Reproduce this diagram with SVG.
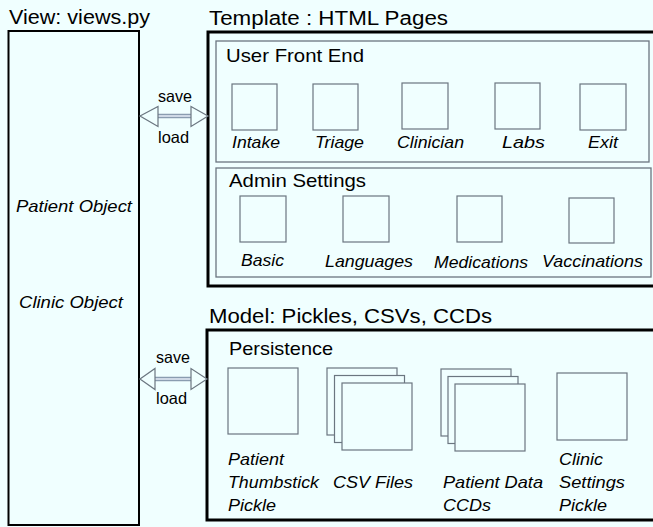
<svg xmlns="http://www.w3.org/2000/svg" width="653" height="527" viewBox="0 0 653 527">
<style>
.bg{fill:#f0ffff}
.outer{fill:#f0ffff;stroke:#000;stroke-width:3}
.outerv{fill:#f0ffff;stroke:#000;stroke-width:2}
.inner{fill:#f0ffff;stroke:#6b7680;stroke-width:1.3}
.page{fill:#f0ffff;stroke:#6b7680;stroke-width:1.2}
text{font-family:"Liberation Sans",Arial,sans-serif;fill:#000}
.title{font-size:20px}
.sub{font-size:19px}
.lab{font-size:17px;font-style:italic}
.sl{font-size:16.5px}
.tri{fill:#f0ffff;stroke:#6b7680;stroke-width:1.2}
.shaft{stroke:#8a9cb0;stroke-width:4.5}
.shaftin{stroke:#e6eef8;stroke-width:1.5}
</style>
<rect class="bg" x="0" y="0" width="653" height="527"/>

<g id="view">
<text class="title" x="9" y="24" textLength="141" lengthAdjust="spacingAndGlyphs">View: views.py</text>
<rect class="outerv" x="8.5" y="31" width="130.5" height="494"/>
<text class="lab" x="16" y="212" textLength="116" lengthAdjust="spacingAndGlyphs">Patient Object</text>
<text class="lab" x="19" y="308" textLength="104" lengthAdjust="spacingAndGlyphs">Clinic Object</text>
</g>

<g id="template">
<text class="title" x="209" y="25" textLength="239" lengthAdjust="spacingAndGlyphs">Template : HTML Pages</text>
<rect class="outer" x="208" y="32" width="460" height="254"/>
</g>

<g id="user-front-end">
<rect class="inner" x="216" y="41" width="433" height="121"/>
<text class="sub" x="226" y="62" textLength="138" lengthAdjust="spacingAndGlyphs">User Front End</text>
<g id="intake"><rect class="page" x="232" y="84" width="45" height="46"/><text class="lab" x="232" y="148" textLength="48" lengthAdjust="spacingAndGlyphs">Intake</text></g>
<g id="triage"><rect class="page" x="313" y="84" width="45" height="46"/><text class="lab" x="315" y="148" textLength="49" lengthAdjust="spacingAndGlyphs">Triage</text></g>
<g id="clinician"><rect class="page" x="402" y="83" width="46" height="46"/><text class="lab" x="397" y="148" textLength="67" lengthAdjust="spacingAndGlyphs">Clinician</text></g>
<g id="labs"><rect class="page" x="495" y="83" width="45" height="46"/><text class="lab" x="502" y="148" textLength="43" lengthAdjust="spacingAndGlyphs">Labs</text></g>
<g id="exit"><rect class="page" x="580" y="84" width="46" height="46"/><text class="lab" x="588" y="148" textLength="30" lengthAdjust="spacingAndGlyphs">Exit</text></g>
</g>

<g id="admin-settings">
<rect class="inner" x="216" y="168" width="435" height="109"/>
<text class="sub" x="229" y="187" textLength="137" lengthAdjust="spacingAndGlyphs">Admin Settings</text>
<g id="basic"><rect class="page" x="240" y="196" width="46" height="46"/><text class="lab" x="241" y="266" textLength="43" lengthAdjust="spacingAndGlyphs">Basic</text></g>
<g id="languages"><rect class="page" x="343" y="196" width="46" height="46"/><text class="lab" x="325" y="267" textLength="88" lengthAdjust="spacingAndGlyphs">Languages</text></g>
<g id="medications"><rect class="page" x="457" y="196" width="45" height="46"/><text class="lab" x="434" y="268" textLength="94" lengthAdjust="spacingAndGlyphs">Medications</text></g>
<g id="vaccinations"><rect class="page" x="569" y="198" width="45" height="45"/><text class="lab" x="542" y="267" textLength="101" lengthAdjust="spacingAndGlyphs">Vaccinations</text></g>
</g>

<g id="model">
<text class="title" x="209" y="323" textLength="283" lengthAdjust="spacingAndGlyphs">Model: Pickles, CSVs, CCDs</text>
<rect class="outer" x="207" y="330" width="460" height="190"/>
<text class="sub" x="229" y="355" textLength="104" lengthAdjust="spacingAndGlyphs">Persistence</text>
</g>

<g id="patient-pickle">
<rect class="page" x="228" y="368" width="70" height="66"/>
<text class="lab" x="228" y="465" textLength="56" lengthAdjust="spacingAndGlyphs">Patient</text>
<text class="lab" x="228" y="488" textLength="91" lengthAdjust="spacingAndGlyphs">Thumbstick</text>
<text class="lab" x="228" y="511" textLength="48" lengthAdjust="spacingAndGlyphs">Pickle</text>
</g>
<g id="csv-files">
<rect class="page" x="327" y="368" width="70" height="67"/>
<rect class="page" x="334.5" y="375.5" width="70" height="67"/>
<rect class="page" x="342" y="383" width="70" height="67"/>
<text class="lab" x="333" y="488" textLength="80" lengthAdjust="spacingAndGlyphs">CSV Files</text>
</g>
<g id="patient-ccds">
<rect class="page" x="441" y="369" width="70" height="67"/>
<rect class="page" x="448" y="376.5" width="70" height="67"/>
<rect class="page" x="455" y="384" width="70" height="67"/>
<text class="lab" x="443" y="488" textLength="100" lengthAdjust="spacingAndGlyphs">Patient Data</text>
<text class="lab" x="443" y="511" textLength="48" lengthAdjust="spacingAndGlyphs">CCDs</text>
</g>
<g id="clinic-pickle">
<rect class="page" x="557" y="373" width="70" height="67"/>
<text class="lab" x="559" y="465" textLength="44" lengthAdjust="spacingAndGlyphs">Clinic</text>
<text class="lab" x="559" y="488" textLength="66" lengthAdjust="spacingAndGlyphs">Settings</text>
<text class="lab" x="559" y="511" textLength="48" lengthAdjust="spacingAndGlyphs">Pickle</text>
</g>

<g id="connectors">
<g id="view-template">
<line class="shaft" x1="157" y1="116" x2="192" y2="116"/>
<line class="shaftin" x1="157" y1="116" x2="192" y2="116"/>
<polygon class="tri" points="140,116 158,106.5 158,126.5"/>
<polygon class="tri" points="208,116 191,106.5 191,126.5"/>
<text class="sl" x="158" y="102" textLength="34" lengthAdjust="spacingAndGlyphs">save</text>
<text class="sl" x="158" y="143" textLength="31" lengthAdjust="spacingAndGlyphs">load</text>
</g>
<g id="view-model">
<line class="shaft" x1="154" y1="379" x2="192" y2="379"/>
<line class="shaftin" x1="154" y1="379" x2="192" y2="379"/>
<polygon class="tri" points="140,379 155,368.5 155,389.5"/>
<polygon class="tri" points="207,379 191,368.5 191,389.5"/>
<text class="sl" x="156" y="363" textLength="34" lengthAdjust="spacingAndGlyphs">save</text>
<text class="sl" x="156" y="404" textLength="31" lengthAdjust="spacingAndGlyphs">load</text>
</g>
</g>
</svg>
